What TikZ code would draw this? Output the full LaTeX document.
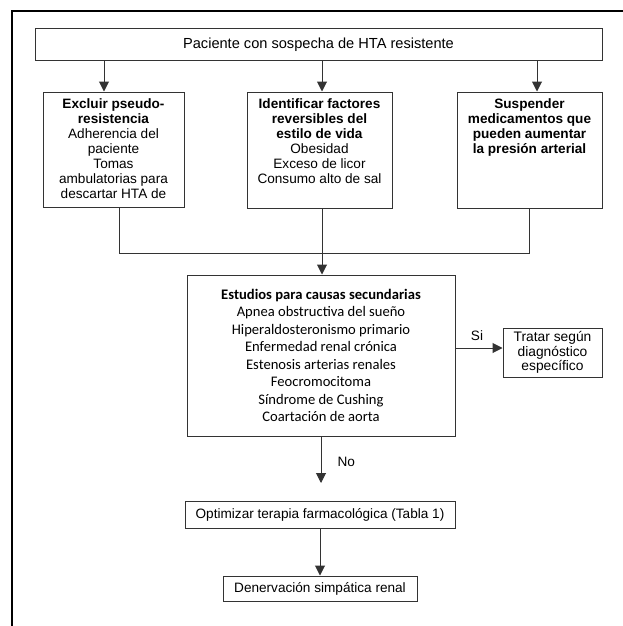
\documentclass[tikz,border=0pt]{standalone}
\usepackage{fontspec}
\setmainfont{Liberation Sans}
\newfontfamily\calib{Carlito}
\usetikzlibrary{arrows.meta}
\definecolor{boxcol}{HTML}{333333}
\begin{document}
\begin{tikzpicture}[x=1pt,y=-1pt,
  box/.style={draw=boxcol, line width=1pt, inner sep=0pt},
  arr/.style={draw=boxcol, line width=1pt, -{Triangle[width=10pt,length=10pt]}},
  ln/.style={draw=boxcol, line width=1pt},
  txt/.style={font=\fontsize{13.6}{15}\selectfont}]
\useasboundingbox (0,0) rectangle (623,626);
\draw[line width=2.5pt] (12,626) -- (12,11) -- (623,11);

\node[box, minimum width=567pt, minimum height=32pt, font=\fontsize{14.6}{17}\selectfont] (T) at (318.5,45) {Paciente con sospecha de HTA resistente};

\node[box, txt] (L) at (113.5,149.5) {\parbox[c][115pt][t]{141pt}{\centering\vspace*{7pt}\textbf{Excluir pseudo-\\resistencia}\\Adherencia del\\paciente\\Tomas\\ambulatorias para\\descartar HTA de}};
\node[box, txt] (M) at (319.5,150) {\parbox[c][116pt][t]{145pt}{\centering\vspace*{7pt}\textbf{Identificar factores\\reversibles del\\estilo de vida}\\Obesidad\\Exceso de licor\\Consumo alto de sal}};
\node[box, txt] (R) at (529.5,150) {\parbox[c][116pt][t]{145pt}{\centering\vspace*{7pt}\textbf{Suspender\\medicamentos que\\pueden aumentar\\la presión arterial}}};

\node[box, minimum width=268pt, minimum height=161pt, align=center, font=\calib\fontsize{14.6}{17.5}\selectfont] (E) at (321,355.5) {\textbf{Estudios para causas secundarias}\\Apnea obstructiva del sueño\\Hiperaldosteronismo primario\\Enfermedad renal crónica\\Estenosis arterias renales\\Feocromocitoma\\Síndrome de Cushing\\Coartación de aorta};

\node[box, minimum width=99pt, minimum height=49pt, align=center, font=\fontsize{13.8}{14.5}\selectfont] (Tr) at (552.5,352.5) {Tratar según\\diagnóstico\\específico};

\node[box, txt, minimum width=270pt, minimum height=27pt] (O) at (320,514.5) {Optimizar terapia farmacológica (Tabla 1)};
\node[box, txt, minimum width=194pt, minimum height=25pt] (D) at (320,588.5) {Denervación simpática renal};

\coordinate (xL) at (104,0);
\coordinate (xM) at (322,0);
\coordinate (xR) at (537,0);
\draw[arr] (T.south -| xL) -- (L.north -| xL);
\draw[arr] (T.south -| xM) -- (M.north -| xM);
\draw[arr] (T.south -| xR) -- (R.north -| xR);

\coordinate (bL) at (119,0);
\coordinate (bR) at (529,0);
\coordinate (j) at (322,253);
\draw[ln] (L.south -| bL) |- (j);
\draw[ln] (R.south -| bR) |- (j);
\draw[arr] (M.south -| j) -- (E.north -| j);

\coordinate (ySi) at (0,348);
\draw[arr] (E.east |- ySi) -- (Tr.west |- ySi);
\node[txt] (si) at (477,336) {Si};

\coordinate (noEnd) at (321,483);
\draw[arr] (E.south -| noEnd) -- (noEnd);
\node[txt, anchor=west] (no) at (334,462) {No};

\draw[arr] (O.south) -- (D.north);
\end{tikzpicture}
\end{document}
